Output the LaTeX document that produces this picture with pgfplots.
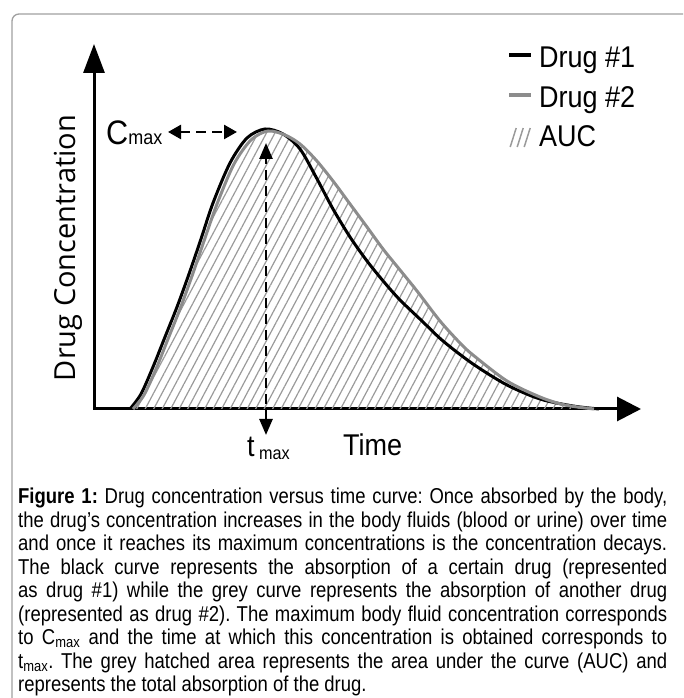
\documentclass[border=0pt]{standalone}
\usepackage{fontspec}
\setmainfont{Liberation Sans}[FakeStretch=0.9]
\newfontfamily\capfont{Liberation Sans}[FakeStretch=0.86]
\newfontfamily\osans{Open Sans}
\usepackage{pgfplots}
\pgfplotsset{compat=1.18}
\usetikzlibrary{arrows.meta,patterns.meta}

\definecolor{curvegray}{HTML}{8C8C8C}
\definecolor{hatchgray}{HTML}{9A9A9A}
\definecolor{framegray}{HTML}{A0A0A0}

\begin{document}
\begin{tikzpicture}
\useasboundingbox (0,0) rectangle (683pt,698pt);
\begin{scope}
\clip (0,0) rectangle (683pt,698pt);
\draw[framegray, line width=1.3pt, rounded corners=7pt] (12pt,-20pt) -- (12pt,684pt) -- (720pt,684pt);
\end{scope}
\begin{axis}[
  x=1pt, y=1pt, xmin=0, xmax=547, ymin=0, ymax=365,
  at={(94pt,289pt)}, anchor=south west,
  axis lines=none,
  xtick=\empty, ytick=\empty,
  clip=false,
  legend style={at={(axis cs:413,364)}, anchor=north west, draw=none, fill=none,
    font=\fontsize{30}{30}\selectfont, row sep=13pt, inner sep=0pt},
  legend cell align=left,
  legend image code/.code={\draw[#1, line width=4pt] (0pt,3pt) -- (22pt,3pt); \path[draw=none,fill=none] (0pt,0pt) -- (28pt,0pt);},
]
% axes
\draw[line width=3pt, line join=miter, {Triangle[length=29pt,width=21pt]}-{Triangle[length=24pt,width=24pt]}]
  (axis cs:0,365) -- (axis cs:0,0) -- (axis cs:547,0);
% AUC hatch (under Drug #2 curve)
\addplot[draw=none, smooth, forget plot, pattern={Lines[angle=62,distance=7.5pt,line width=1.2pt]}, pattern color=hatchgray]
 coordinates {(39,0) (50,14) (62,40) (74,70) (86,100) (98,133) (110,168) (123,205) (140,245) (157,269) (174,278) (191,274) (206,265) (222,249) (239,228) (256,205) (273,182) (289,160) (306,139) (323,118) (346,88) (366,66) (379,54) (413,28) (446,12) (471,4) (500,0)} \closedcycle;
% Drug #1
\addplot[black, line width=3pt, smooth]
 coordinates {(36,0) (47,15) (59,42) (71,72) (83,102) (95,135) (107,170) (119,206) (136,246) (153,271) (171,280) (189,275) (206,260) (222,232) (239,200) (256,172) (273,148) (290,127) (306,109) (328,88) (349,68) (379,45) (413,24) (446,10) (479,3) (505,0)};
\addlegendentry{Drug \#1}
% Drug #2
\addplot[curvegray, line width=3pt, smooth]
 coordinates {(39,0) (50,14) (62,40) (74,70) (86,100) (98,133) (110,168) (123,205) (140,245) (157,269) (174,278) (191,274) (206,265) (222,249) (239,228) (256,205) (273,182) (289,160) (306,139) (323,118) (346,88) (366,66) (379,54) (413,28) (446,12) (471,4) (500,0)};
\addlegendentry{Drug \#2}
\addlegendimage{legend image code/.code={\draw[hatchgray, line width=1.5pt] (1pt,-10pt)--(7pt,9pt) (8pt,-10pt)--(14pt,9pt) (15pt,-10pt)--(21pt,9pt); \path[draw=none,fill=none] (0pt,0pt) -- (28pt,0pt);}}
\addlegendentry{AUC}

% annotations
\draw[line width=2.5pt, dash pattern=on 10pt off 6pt, {Triangle[length=13pt,width=14pt]}-{Triangle[length=13pt,width=14pt]}]
  (axis cs:74,277) -- (axis cs:143,277);
\draw[line width=2.5pt, dash pattern=on 10pt off 6pt, {Triangle[length=16pt,width=13pt]}-{Triangle[length=16pt,width=13pt]}]
  (axis cs:172,-26) -- (axis cs:172,266);

\node[anchor=base west, inner sep=0pt] at (axis cs:12,264) {\fontsize{34}{34}\selectfont C\fontsize{20}{20}\selectfont max};
\node[anchor=base west, inner sep=0pt] at (axis cs:153,-48) {\fontsize{30}{30}\selectfont t};
\node[anchor=base west, inner sep=0pt] at (axis cs:165,-51) {\fontsize{18}{18}\selectfont max};
\node[anchor=base west, inner sep=0pt] at (axis cs:249,-47) {\fontsize{30}{30}\selectfont Time};
\node[rotate=90, anchor=base, inner sep=0pt] at (axis cs:-19,161) {\osans\fontsize{29}{29}\selectfont Drug Concentration};
\end{axis}

\node[anchor=north west, inner sep=0pt, text width=649pt, align=justify, font=\capfont\fontsize{21.5}{23.5}\selectfont] at (18pt,210pt)
{\frenchspacing\textbf{Figure 1:} Drug concentration versus time curve: Once absorbed by the body,\linebreak
the drug’s concentration increases in the body fluids (blood or urine) over time\linebreak
and once it reaches its maximum concentrations is the concentration decays.\linebreak
The black curve represents the absorption of a certain drug (represented\linebreak
as drug \#1) while the grey curve represents the absorption of another drug\linebreak
(represented as drug \#2). The maximum body fluid concentration corresponds\linebreak
to C\textsubscript{max} and the time at which this concentration is obtained corresponds to\linebreak
t\textsubscript{max}. The grey hatched area represents the area under the curve (AUC) and\linebreak
represents the total absorption of the drug.};
\end{tikzpicture}
\end{document}
